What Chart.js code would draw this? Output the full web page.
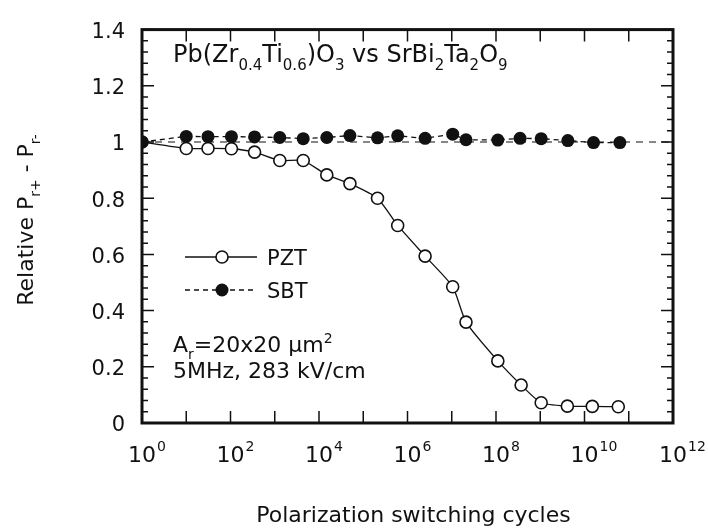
<!DOCTYPE html>
<html>
<head>
<meta charset="utf-8">
<script src="https://cdn.jsdelivr.net/npm/chart.js@4"></script>
<style>
  body { margin: 0; background: #fff; }
  #wrap { width: 708px; height: 531px; }
</style>
</head>
<body>
<div id="wrap"><canvas id="fatiga" width="708" height="531"></canvas></div>
<script>
// switching cycles and relative remanent polarization
const pztCycles = [1, 10, 31, 105, 350, 1.3e3, 4.4e3, 1.5e4, 5e4, 2.1e5, 6e5, 2.5e6, 1.05e7, 2.1e7, 1.1e8, 3.7e8, 1.05e9, 4.1e9, 1.5e10, 5.8e10];
const pztValues = [1, 0.977, 0.977, 0.976, 0.964, 0.934, 0.934, 0.883, 0.852, 0.800, 0.703, 0.594, 0.485, 0.359, 0.221, 0.135, 0.072, 0.060, 0.059, 0.058];

const sbtCycles = [1, 10, 31, 105, 350, 1.3e3, 4.4e3, 1.5e4, 5e4, 2.1e5, 6e5, 2.5e6, 1.05e7, 2.1e7, 1.1e8, 3.5e8, 1.05e9, 4.2e9, 1.6e10, 6.3e10];
const sbtValues = [1, 1.020, 1.019, 1.019, 1.018, 1.016, 1.012, 1.016, 1.023, 1.015, 1.022, 1.013, 1.028, 1.008, 1.007, 1.013, 1.012, 1.005, 0.998, 0.998];

// dashed level at 1 across the whole range
const refCycles = [1, 1e12];
const refLevel = 1;

const decades = [1e0, 1e1, 1e2, 1e3, 1e4, 1e5, 1e6, 1e7, 1e8, 1e9, 1e10, 1e11, 1e12];
const labelExponents = [0, 2, 4, 6, 8, 10, 12];
const yMajor = [0, 0.2, 0.4, 0.6, 0.8, 1, 1.2, 1.4];

const FONT = '"DejaVu Sans", sans-serif';
const INK = '#111';

const pares = (xs, ys) => xs.map((x, i) => ({ x: x, y: ys[i] }));

// texto con subindices / superindices
function partes(ctx, parts, x, y, size, dibujar) {
  let cx = x;
  for (const [txt, kind] of parts) {
    const s = kind === 'n' ? size : Math.round(size * 0.64);
    const dy = kind === 'sub' ? size * 0.32 : kind === 'sup' ? -size * 0.42 : 0;
    ctx.font = s + 'px ' + FONT;
    if (dibujar) ctx.fillText(txt, cx, y + dy);
    cx += ctx.measureText(txt).width;
  }
  return cx - x;
}

const marco = {
  id: 'marco',
  beforeDatasetsDraw(chart) {
    const { ctx, chartArea: a, scales } = chart;
    const xs = scales.x, ys = scales.y;
    ctx.save();
    ctx.strokeStyle = INK;
    ctx.lineWidth = 1.5;
    ctx.beginPath();
    decades.forEach(v => {
      const px = xs.getPixelForValue(v);
      ctx.moveTo(px, a.bottom); ctx.lineTo(px, a.bottom - 12);
      ctx.moveTo(px, a.top); ctx.lineTo(px, a.top + 12);
    });
    for (let i = 0; i <= 35; i++) {
      const v = i * 0.04;
      const py = ys.getPixelForValue(v);
      const len = i % 5 === 0 ? 12 : 6;
      ctx.moveTo(a.left, py); ctx.lineTo(a.left + len, py);
      ctx.moveTo(a.right, py); ctx.lineTo(a.right - len, py);
    }
    ctx.stroke();
    ctx.lineWidth = 3;
    ctx.strokeRect(a.left, a.top, a.right - a.left, a.bottom - a.top);
    ctx.restore();
  },
  afterDraw(chart) {
    const { ctx, chartArea: a, scales } = chart;
    const xs = scales.x;
    ctx.save();
    ctx.fillStyle = INK;
    ctx.textBaseline = 'alphabetic';

    // etiquetas del eje x: 10^n
    labelExponents.forEach(e => {
      const px = xs.getPixelForValue(Math.pow(10, e));
      ctx.font = '22px ' + FONT;
      const w = ctx.measureText('10').width;
      ctx.textAlign = 'left';
      ctx.fillText('10', px - w / 2, 462);
      ctx.font = '14px ' + FONT;
      ctx.fillText(String(e), px + w / 2 + 1, 451);
    });

    // titulo eje x
    ctx.font = '22px ' + FONT;
    ctx.textAlign = 'center';
    ctx.fillText('Polarization switching cycles', (a.left + a.right) / 2 + 6, 522);

    // titulo eje y
    ctx.textAlign = 'left';
    const yTitle = [['Relative P', 'n'], ['r+', 'sub'], [' - P', 'n'], ['r-', 'sub']];
    const wy = partes(ctx, yTitle, 0, 0, 22, false);
    ctx.save();
    ctx.translate(33, 220);
    ctx.rotate(-Math.PI / 2);
    partes(ctx, yTitle, -wy / 2, 0, 22, true);
    ctx.restore();

    // rotulos dentro del grafico
    partes(ctx, [['Pb(Zr', 'n'], ['0.4', 'sub'], ['Ti', 'n'], ['0.6', 'sub'], [')O', 'n'], ['3', 'sub'],
      [' vs SrBi', 'n'], ['2', 'sub'], ['Ta', 'n'], ['2', 'sub'], ['O', 'n'], ['9', 'sub']], 173, 62, 24, true);
    partes(ctx, [['A', 'n'], ['r', 'sub'], ['=20x20 \u03bcm', 'n'], ['2', 'sup']], 173, 352, 22, true);
    partes(ctx, [['5MHz, 283 kV/cm', 'n']], 173, 378, 22, true);

    // leyenda
    ctx.strokeStyle = INK;
    ctx.lineWidth = 1.3;
    ctx.beginPath();
    ctx.moveTo(185, 257); ctx.lineTo(257, 257);
    ctx.stroke();
    ctx.beginPath();
    ctx.arc(222, 257, 6, 0, Math.PI * 2);
    ctx.fillStyle = '#fff';
    ctx.fill();
    ctx.lineWidth = 1.6;
    ctx.stroke();
    ctx.lineWidth = 1.3;
    ctx.setLineDash([5, 4]);
    ctx.beginPath();
    ctx.moveTo(185, 290); ctx.lineTo(257, 290);
    ctx.stroke();
    ctx.setLineDash([]);
    ctx.fillStyle = INK;
    ctx.beginPath();
    ctx.arc(222, 290, 6.5, 0, Math.PI * 2);
    ctx.fill();
    ctx.font = '21px ' + FONT;
    ctx.fillText('PZT', 267, 265);
    ctx.fillText('SBT', 267, 298);
    ctx.restore();
  }
};

new Chart(document.getElementById('fatiga'), {
  type: 'line',
  data: {
    datasets: [
      {
        label: 'SBT',
        data: pares(sbtCycles, sbtValues),
        borderColor: INK,
        borderWidth: 1.3,
        borderDash: [5, 4],
        pointRadius: 6.5,
        pointBackgroundColor: INK,
        pointBorderColor: INK,
        pointBorderWidth: 0,
        order: 1
      },
      {
        label: 'PZT',
        data: pares(pztCycles, pztValues),
        borderColor: INK,
        borderWidth: 1.3,
        tension: 0.2,
        pointRadius: 6,
        pointBackgroundColor: '#fff',
        pointBorderColor: INK,
        pointBorderWidth: 1.6,
        order: 2
      },
      {
        label: 'ref',
        data: refCycles.map(x => ({ x: x, y: refLevel })),
        borderColor: INK,
        borderWidth: 1.2,
        borderDash: [7, 6],
        pointRadius: 0,
        order: 3
      }
    ]
  },
  options: {
    responsive: false,
    animation: false,
    layout: { padding: { top: 13, right: 35, left: 0, bottom: 0 } },
    plugins: { legend: { display: false }, tooltip: { enabled: false } },
    scales: {
      x: {
        type: 'logarithmic',
        min: 1,
        max: 1e12,
        afterBuildTicks: s => { s.ticks = decades.map(v => ({ value: v })); },
        afterFit: s => { s.height = 108; },
        ticks: { display: false },
        grid: { display: false },
        border: { display: false }
      },
      y: {
        min: 0,
        max: 1.4,
        afterBuildTicks: s => { s.ticks = yMajor.map(v => ({ value: v })); },
        afterFit: s => { s.width = 142; },
        ticks: {
          padding: 17,
          labelOffset: 3,
          color: INK,
          font: { family: FONT, size: 21 },
          callback: v => String(Math.round(v * 10) / 10)
        },
        grid: { display: false, drawTicks: false },
        border: { display: false }
      }
    }
  },
  plugins: [marco]
});
</script>
</body>
</html>
